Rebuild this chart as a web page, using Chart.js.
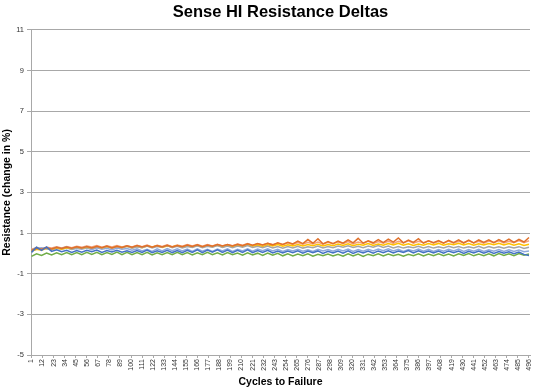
<!DOCTYPE html>
<html>
<head>
<meta charset="utf-8">
<script src="https://cdn.jsdelivr.net/npm/chart.js@4.4.1/dist/chart.umd.min.js"></script>
<style>
  html, body { margin: 0; padding: 0; background: #ffffff; }
  #wrap { width: 543px; height: 388px; position: relative; }
</style>
</head>
<body>
<div id="wrap"><canvas id="c" width="543" height="388"></canvas></div>
<script>
// ---- DATA ----
const chartTitle = 'Sense HI Resistance Deltas';
const xTitle = 'Cycles to Failure';
const yTitle = 'Resistance (change in %)';

// cycle numbers at which the curves were read (every 5th cycle)
const sampleCycles = Array.from({ length: 100 }, (_, i) => 1 + 5 * i);

// x axis tick labels
const xTickLabels = [1,12,23,34,45,56,67,78,89,100,111,122,133,144,155,166,177,188,199,210,221,232,243,254,265,276,287,298,309,320,331,342,353,364,375,386,397,408,419,430,441,452,463,474,485,496];
// y axis tick labels
const yTickLabels = [-5,-3,-1,1,3,5,7,9,11];

const seriesBlue = [
  0.05,0.3,0.15,0.32,0.1,0.18,0.08,0.15,0.05,0.14,
  0.06,0.15,0.08,0.16,0.05,0.14,0.07,0.15,0.06,0.13,
  0.04,0.14,0.05,0.16,0.03,0.13,0.05,0.15,0.04,0.14,
  0.03,0.15,0.05,0.17,0.04,0.16,0.06,0.18,0.05,0.16,
  0.04,0.15,0.05,0.17,0.03,0.14,0.05,0.15,0.02,0.12,
  0.02,0.12,0.03,0.13,0.01,0.11,0.03,0.12,0.0,0.1,
  0.02,0.11,0.01,0.12,0.0,0.1,0.02,0.11,0.01,0.12,
  0.03,0.13,0.02,0.12,0.04,0.14,0.02,0.13,0.03,0.12,
  0.02,0.11,0.01,0.12,0.03,0.11,0.0,0.1,0.02,0.11,
  0.01,0.1,0.0,0.09,0.01,0.08,-0.02,0.06,-0.05,-0.1
];
const seriesOrange = [
  0.15,0.25,0.2,0.28,0.22,0.3,0.24,0.31,0.25,0.33,
  0.26,0.34,0.27,0.35,0.28,0.36,0.27,0.35,0.29,0.37,
  0.3,0.38,0.31,0.39,0.3,0.38,0.32,0.4,0.31,0.39,
  0.33,0.41,0.34,0.42,0.33,0.41,0.35,0.43,0.36,0.44,
  0.37,0.45,0.38,0.47,0.4,0.48,0.41,0.5,0.42,0.52,
  0.44,0.55,0.46,0.6,0.48,0.68,0.5,0.72,0.47,0.58,
  0.48,0.6,0.5,0.66,0.52,0.74,0.5,0.62,0.52,0.68,
  0.53,0.7,0.55,0.76,0.52,0.65,0.54,0.72,0.5,0.62,
  0.52,0.63,0.5,0.64,0.53,0.66,0.51,0.65,0.52,0.66,
  0.54,0.67,0.53,0.68,0.55,0.7,0.54,0.69,0.56,0.78
];
const seriesGray = [
  0.15,0.3,0.22,0.28,0.2,0.3,0.24,0.32,0.22,0.3,
  0.25,0.33,0.24,0.3,0.26,0.34,0.25,0.32,0.27,0.35,
  0.26,0.33,0.28,0.36,0.27,0.34,0.3,0.38,0.28,0.35,
  0.27,0.34,0.29,0.37,0.28,0.35,0.3,0.38,0.29,0.36,
  0.28,0.36,0.3,0.38,0.29,0.35,0.28,0.36,0.27,0.34,
  0.26,0.34,0.27,0.35,0.26,0.33,0.28,0.36,0.27,0.34,
  0.28,0.36,0.3,0.37,0.29,0.35,0.28,0.36,0.3,0.38,
  0.29,0.36,0.27,0.34,0.26,0.33,0.28,0.35,0.27,0.34,
  0.26,0.33,0.27,0.35,0.28,0.34,0.26,0.33,0.27,0.35,
  0.26,0.34,0.27,0.33,0.25,0.32,0.26,0.33,0.24,0.3
];
const seriesGold = [
  0.1,0.2,0.15,0.25,0.18,0.26,0.2,0.28,0.22,0.3,
  0.24,0.3,0.25,0.32,0.26,0.33,0.27,0.34,0.28,0.35,
  0.27,0.34,0.28,0.36,0.3,0.37,0.29,0.36,0.31,0.38,
  0.3,0.37,0.32,0.39,0.31,0.38,0.33,0.4,0.32,0.39,
  0.33,0.4,0.34,0.42,0.35,0.41,0.34,0.42,0.36,0.43,
  0.35,0.42,0.37,0.44,0.36,0.43,0.38,0.45,0.37,0.44,
  0.38,0.46,0.39,0.47,0.38,0.45,0.4,0.48,0.39,0.46,
  0.4,0.48,0.41,0.5,0.4,0.47,0.39,0.46,0.4,0.48,
  0.41,0.49,0.4,0.47,0.42,0.5,0.41,0.48,0.4,0.47,
  0.41,0.49,0.42,0.5,0.41,0.48,0.4,0.47,0.39,0.45
];
const seriesLightBlue = [
  0.12,0.2,0.28,0.22,0.18,0.25,0.2,0.26,0.19,0.24,
  0.2,0.26,0.18,0.27,0.2,0.25,0.17,0.26,0.2,0.24,
  0.15,0.22,0.12,0.2,0.1,0.22,0.12,0.24,0.13,0.22,
  0.12,0.21,0.1,0.22,0.11,0.2,0.09,0.21,0.12,0.22,
  0.1,0.2,0.12,0.22,0.11,0.21,0.13,0.22,0.12,0.2,
  0.1,0.19,0.12,0.2,0.11,0.18,0.1,0.2,0.12,0.19,
  0.11,0.2,0.12,0.21,0.1,0.19,0.11,0.2,0.12,0.21,
  0.13,0.22,0.12,0.2,0.1,0.19,0.12,0.21,0.11,0.2,
  0.1,0.19,0.11,0.2,0.12,0.21,0.1,0.19,0.11,0.2,
  0.1,0.18,0.11,0.19,0.1,0.18,0.09,0.17,0.08,0.12
];
const seriesGreen = [
  -0.15,-0.02,-0.1,0.02,-0.08,0.03,-0.07,0.04,-0.06,0.04,
  -0.06,0.05,-0.05,0.05,-0.07,0.04,-0.05,0.06,-0.06,0.05,
  -0.07,0.04,-0.06,0.05,-0.08,0.03,-0.06,0.04,-0.07,0.05,
  -0.06,0.04,-0.08,0.03,-0.06,0.05,-0.07,0.03,-0.08,0.04,
  -0.07,0.02,-0.09,0.03,-0.08,0.01,-0.1,0.02,-0.09,0.0,
  -0.12,-0.02,-0.13,-0.03,-0.12,-0.02,-0.14,-0.04,-0.12,-0.03,
  -0.13,-0.04,-0.14,-0.02,-0.13,-0.03,-0.15,-0.04,-0.12,-0.02,
  -0.13,-0.03,-0.12,-0.04,-0.14,-0.05,-0.11,-0.02,-0.13,-0.03,
  -0.12,-0.02,-0.11,-0.03,-0.13,-0.02,-0.1,-0.01,-0.12,-0.03,
  -0.11,-0.02,-0.12,-0.01,-0.1,-0.02,-0.11,-0.01,-0.09,-0.03
];
const seriesSalmon = [
  0.2,0.28,0.24,0.3,0.26,0.32,0.27,0.34,0.28,0.35,
  0.3,0.36,0.31,0.38,0.3,0.37,0.32,0.39,0.31,0.38,
  0.32,0.4,0.33,0.41,0.32,0.4,0.34,0.42,0.33,0.41,
  0.35,0.43,0.36,0.44,0.35,0.43,0.37,0.45,0.36,0.44,
  0.38,0.46,0.4,0.48,0.39,0.47,0.41,0.5,0.42,0.5,
  0.43,0.52,0.44,0.53,0.45,0.55,0.46,0.56,0.45,0.55,
  0.47,0.57,0.48,0.58,0.47,0.56,0.49,0.6,0.48,0.58,
  0.5,0.6,0.49,0.59,0.51,0.62,0.5,0.6,0.52,0.62,
  0.5,0.6,0.51,0.61,0.5,0.6,0.52,0.62,0.51,0.6,
  0.5,0.61,0.52,0.62,0.51,0.6,0.53,0.63,0.52,0.62
];

const seriesList = [
  { name: 'S1', values: seriesBlue, color: '#4472C4' },
  { name: 'S2', values: seriesOrange, color: '#E0702A' },
  { name: 'S3', values: seriesGray, color: '#A5A5A5' },
  { name: 'S4', values: seriesGold, color: '#FFC000' },
  { name: 'S5', values: seriesLightBlue, color: '#8FAADC' },
  { name: 'S6', values: seriesGreen, color: '#70AD47' },
  { name: 'S7', values: seriesSalmon, color: '#F4A07A' }
];

const FONT = '"Liberation Sans", Arial, sans-serif';
const GRID = '#a8a8a8';

const datasets = seriesList.map(s => ({
  label: s.name,
  data: s.values.map((v, i) => ({ x: sampleCycles[i], y: v })),
  borderColor: s.color,
  backgroundColor: s.color,
  borderWidth: 1.5,
  pointRadius: 0,
  tension: 0,
  fill: false
}));

new Chart(document.getElementById('c'), {
  type: 'line',
  data: { datasets },
  options: {
    responsive: false,
    animation: false,
    devicePixelRatio: 1,
    layout: { padding: { left: 0, right: 13, top: 0, bottom: 0 } },
    plugins: {
      legend: { display: false },
      tooltip: { enabled: false },
      title: {
        display: true,
        text: chartTitle,
        fullSize: false,
        color: '#000000',
        font: { family: FONT, size: 16.5, weight: 'bold' },
        padding: { top: 3, bottom: 7 }
      }
    },
    scales: {
      x: {
        type: 'linear',
        min: 0.5,
        max: 497,
        afterBuildTicks: sc => { sc.ticks = xTickLabels.map(v => ({ value: v })); },
        afterFit: sc => { sc.height = 33; },
        ticks: {
          autoSkip: false,
          minRotation: 90,
          maxRotation: 90,
          padding: 1,
          color: '#333333',
          font: { family: FONT, size: 7 },
          callback: v => String(v)
        },
        grid: { display: true, drawOnChartArea: false, tickLength: 3, color: GRID },
        border: { display: true, color: GRID },
        title: {
          display: true,
          text: xTitle,
          color: '#000000',
          font: { family: FONT, size: 10.5, weight: 'bold' },
          padding: { top: 0, bottom: 0 }
        }
      },
      y: {
        type: 'linear',
        min: -5,
        max: 11,
        afterBuildTicks: sc => { sc.ticks = yTickLabels.map(v => ({ value: v })); },
        afterFit: sc => { sc.width = 31; },
        ticks: {
          padding: 3,
          color: '#333333',
          font: { family: FONT, size: 7.5 }
        },
        grid: { color: GRID, tickLength: 4, lineWidth: 1 },
        border: { display: true, color: GRID },
        title: {
          display: true,
          text: yTitle,
          color: '#000000',
          font: { family: FONT, size: 10.5, weight: 'bold' },
          padding: { top: 1, bottom: 0 }
        }
      }
    }
  }
});
</script>
</body>
</html>
